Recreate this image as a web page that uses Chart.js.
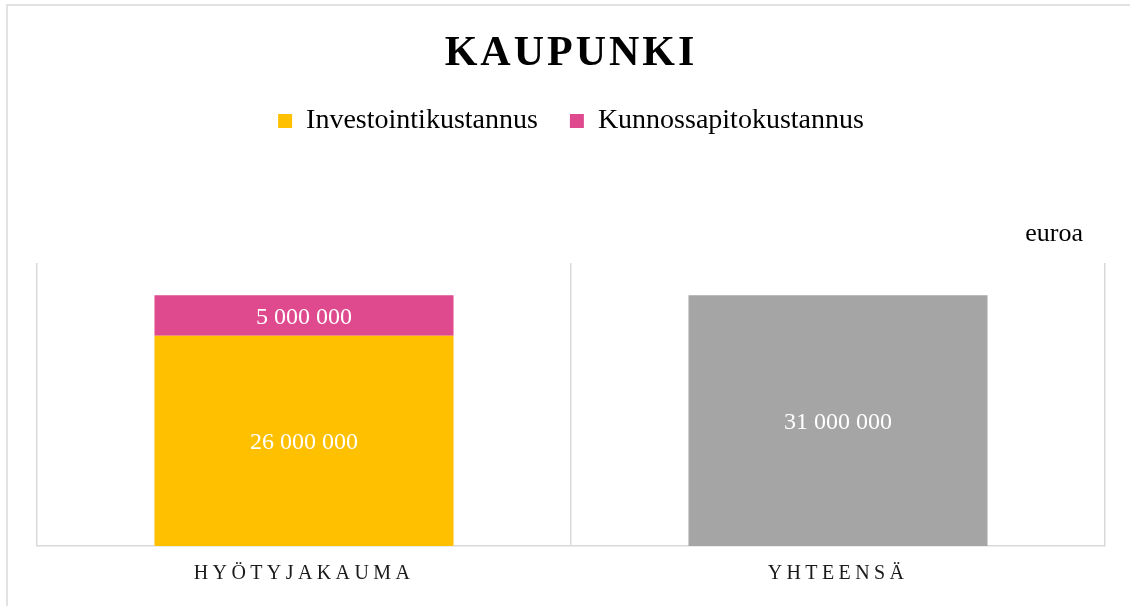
<!DOCTYPE html>
<html>
<head>
<meta charset="utf-8">
<script src="https://cdn.jsdelivr.net/npm/chart.js@4.4.1/dist/chart.umd.min.js"></script>
<style>
    body { margin: 0; background: #fff; }
</style>
</head>
<body>
<canvas id="chart" width="1130" height="606"></canvas>
<script>
// Chart data
const categories = ['HYÖTYJAKAUMA', 'YHTEENSÄ'];
const investointi = [26000000, null];
const kunnossapito = [5000000, null];
const yhteensa = [null, 31000000];
const yMax = 35000000;

const SERIF = "'Liberation Serif', 'Times New Roman', serif";
const GRID = '#d9d9d9';

function formatEuro(v) {
    return String(v).replace(/\B(?=(\d{3})+(?!\d))/g, ' ');
}

// Extra tweaks Chart.js has no option for: letter spacing, value labels, "euroa" note, frame
const excelLook = {
    id: 'excelLook',
    beforeInit(chart) {
        const legend = chart.legend;
        const legendFit = legend.fit;
        legend.fit = function () {
            legendFit.call(this);
            this.height += 118; // empty band between legend and plot
        };
        const title = chart.titleBlock;
        const titleDraw = title.draw;
        title.draw = function () {
            this.ctx.save();
            this.ctx.letterSpacing = '3px';
            titleDraw.call(this);
            this.ctx.restore();
        };
    },
    beforeDraw(chart) {
        const x = chart.scales.x;
        if (!x._spaced) {
            const drawLabels = x.drawLabels;
            x.drawLabels = function (area) {
                this.ctx.save();
                this.ctx.letterSpacing = '4.4px';
                drawLabels.call(this, area);
                this.ctx.restore();
            };
            x._spaced = true;
        }
        const ctx = chart.ctx;
        ctx.save();
        ctx.strokeStyle = GRID;
        ctx.lineWidth = 1.5;
        ctx.beginPath();
        ctx.moveTo(7, chart.height);
        ctx.lineTo(7, 5);
        ctx.lineTo(chart.width, 5);
        ctx.stroke();
        ctx.restore();
    },
    afterDatasetsDraw(chart) {
        const ctx = chart.ctx;
        ctx.save();
        ctx.font = `24px ${SERIF}`;
        ctx.fillStyle = '#fff';
        ctx.textAlign = 'center';
        ctx.textBaseline = 'middle';
        chart.data.datasets.forEach((ds, i) => {
            chart.getDatasetMeta(i).data.forEach((bar, j) => {
                const v = ds.data[j];
                if (v == null) return;
                ctx.fillText(formatEuro(v), bar.x, (bar.y + bar.base) / 2 + 2);
            });
        });
        ctx.restore();
    },
    afterDraw(chart) {
        const ctx = chart.ctx;
        const area = chart.chartArea;
        ctx.save();
        ctx.font = `26px ${SERIF}`;
        ctx.fillStyle = '#000';
        ctx.textAlign = 'right';
        ctx.textBaseline = 'alphabetic';
        ctx.fillText('euroa', area.right - 22, area.top - 22);
        ctx.restore();
    }
};

new Chart(document.getElementById('chart'), {
    type: 'bar',
    data: {
        labels: categories,
        datasets: [
            { label: 'Investointikustannus', data: investointi, backgroundColor: '#FFC000' },
            { label: 'Kunnossapitokustannus', data: kunnossapito, backgroundColor: '#DE4A8D' },
            { label: 'Yhteensä', data: yhteensa, backgroundColor: '#A5A5A5' }
        ]
    },
    options: {
        responsive: false,
        animation: false,
        barPercentage: 0.56,
        categoryPercentage: 1.0,
        layout: { padding: { left: 37, right: 25, top: 0, bottom: 4 } },
        plugins: {
            title: {
                display: true,
                text: 'KAUPUNKI',
                color: '#000',
                font: { family: SERIF, size: 42, weight: 'bold', lineHeight: 1.0 },
                padding: { top: 33, bottom: 0 }
            },
            legend: {
                position: 'top',
                labels: {
                    color: '#000',
                    font: { family: SERIF, size: 28 },
                    boxWidth: 14,
                    boxHeight: 14,
                    padding: 32,
                    filter: item => item.datasetIndex < 2
                }
            },
            tooltip: { enabled: false }
        },
        scales: {
            x: {
                stacked: true,
                grid: { color: GRID, lineWidth: 1.5, drawTicks: false, offset: true },
                border: { color: GRID, width: 1.5 },
                ticks: { color: '#1a1a1a', font: { family: SERIF, size: 20 }, padding: 16 }
            },
            y: {
                stacked: true,
                display: false,
                min: 0,
                max: yMax
            }
        }
    },
    plugins: [excelLook]
});
</script>
</body>
</html>
